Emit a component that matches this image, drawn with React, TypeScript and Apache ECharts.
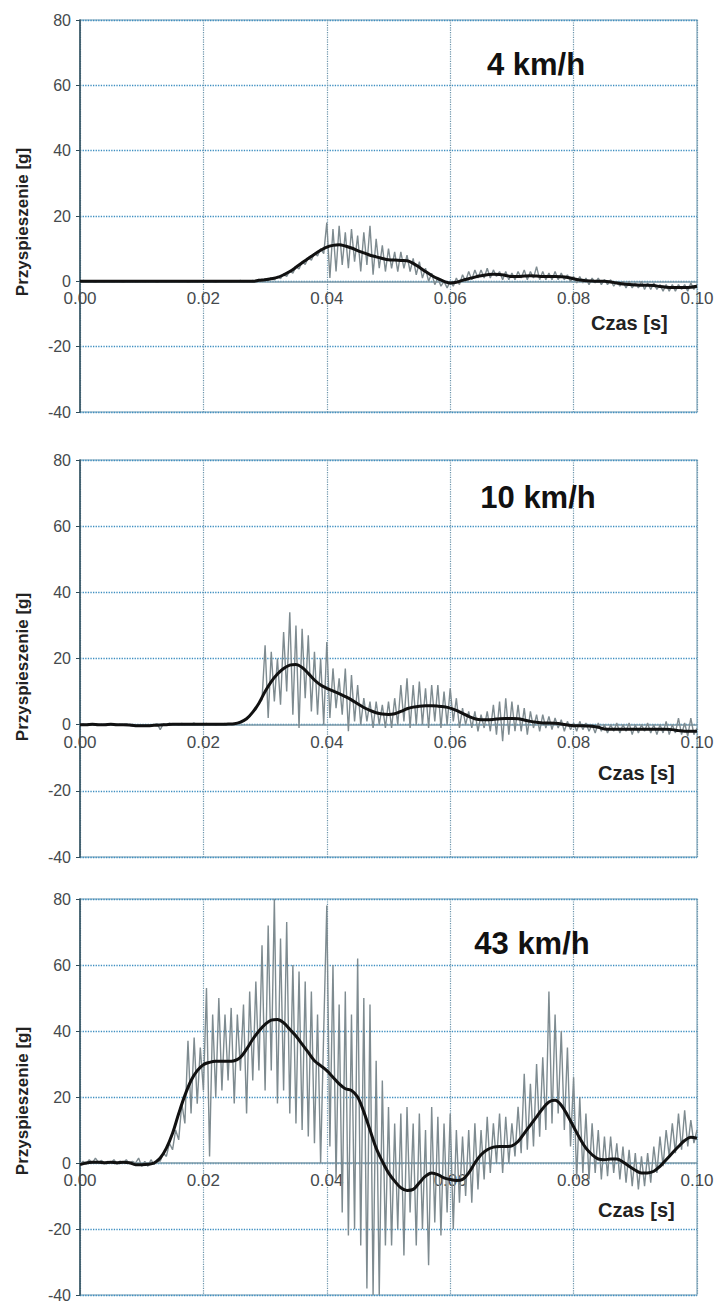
import React, { useEffect, useRef } from "react";
import * as echarts from "echarts";

// time step of the raw (grey) samples and of the filtered (black) samples, in seconds
const RAW_STEP = 0.0005;
const FILT_STEP = 0.001;
const X_MIN = 0;
const X_MAX = 0.1;
const X_INTERVAL = 0.02;
const Y_MIN = -40;
const Y_MAX = 80;
const Y_INTERVAL = 20;

const TITLES = ["4 km/h", "10 km/h", "43 km/h"];
const Y_NAME = "Przyspieszenie [g]";
const X_NAME = "Czas [s]";

// ---------- 4 km/h ----------
const P1_RAW = [
  0, 0.1, -0.1, 0.2, 0, -0.2, 0.1, 0, -0.1, 0.2,
  0, -0.1, 0.1, 0, -0.2, 0.1, 0, 0.2, -0.1, 0,
  0.1, -0.1, 0, 0.2, 0, -0.2, 0.1, 0, -0.1, 0.1,
  0, 0.2, -0.1, 0, 0.1, -0.2, 0, 0.1, -0.1, 0.2,
  0, -0.1, 0.1, 0, -0.2, 0.1, 0, 0.2, 0, -0.1,
  0.1, 0, 0.3, -0.1, 0.2, 0,
  0.3, -0.2, 0.6, 0, 0.8, 0.2, 1.2, 0.4, 1.5, 0.8, 2.2, 1.5, 3.2, 2.5, 4.5, 3.8, 6, 5.2, 7.3, 6.5, 8.6, 7.8, 10, 8.5,
  18, 1, 16, 3, 17, 5, 15, 4, 16, 6,
  14, 3, 15, 5, 17, 2, 13, 4, 11, 3,
  10, 4, 9, 3, 9, 4, 8, 3, 7, 2,
  6, 1, 4, 0, 2.5, -1, 1, -1.5, 0, -2,
  0, -1.5, 1, -1, 2, 0, 3, 0.5, 3.5, 1,
  3.5, 1, 4, 1, 3.5, 1.5, 3, 0.5, 3, 0.5,
  2.5, 0.5, 3, 1, 3.5, 0.5, 3, 1, 4.5, 0.5,
  3, 0.5, 2.5, 0.5, 3, 0.5, 2.5, 0.5, 2, 0,
  1.5, -0.5, 1.5, -0.5, 1, -1, 1, -0.5, 1, -1,
  0.5, -1, 0.5, -1.5, 0, -1.5, 0, -2, 0, -2,
  -0.5, -2, 0, -2.5, -0.5, -2.5, -0.5, -2.5, -1, -3,
  -1, -3, -1, -3, -1, -2.5, -1, -3, -0.5, -2.5, -1,
];
const P1_FILT = [
  0, 0, 0, 0, 0, 0, 0, 0, 0, 0,
  0, 0, 0, 0, 0, 0, 0, 0, 0, 0,
  0, 0, 0, 0, 0, 0, 0, 0, 0, 0.3,
  0.5, 0.8, 1.2, 2, 3, 4.3, 5.7, 7, 8.3, 9.5,
  10.5, 11, 11.2, 10.8, 10.2, 9.4, 8.7, 8, 7.5, 7,
  6.6, 6.5, 6.4, 6.3, 5.5, 4.3, 3, 1.8, 0.8, 0,
  -0.5, -0.3, 0.3, 0.8, 1.3, 1.7, 2, 2.2, 2.1, 1.8,
  1.5, 1.5, 1.6, 1.7, 1.6, 1.5, 1.5, 1.5, 1.4, 1.2,
  0.8, 0.4, 0.2, 0.1, 0, 0, -0.2, -0.5, -0.8, -1,
  -1.1, -1.2, -1.2, -1.3, -1.6, -1.8, -1.9, -1.9, -1.9, -1.8,
  -1.5,
];

// ---------- 10 km/h ----------
const P2_RAW = [
  0, 0.2, -0.1, 0.1, 0, 0.2, 0, -0.1, 0.1, 0,
  0.2, 0, -0.1, 0.1, 0, 0.2, -0.2, -0.4, -0.2, -0.5,
  -0.2, -0.5, -0.1, -0.4, 0, 0.3, -1.5, 0.2, 0, 0.5,
  0, 0.3, -0.1, 0.4, 0, 0.3, 0.1, 0.5, 0, 0.3,
  0.1, 0.4, 0, 0.3, -0.1, 0.2, 0.1, 0.4, 0, 0.3,
  0.2, 0.5,
  0.5, 1, 1.8, 2.5, 3.8, 4.5, 6.5, 7.5,
  24, 2, 22, 7, 20, 6, 28, 10, 34, 3,
  30, -1, 29, 8, 27, 4, 22, 3, 20, 0,
  25, 2, 17, 5, 14, 3, 17, -2, 15, 1,
  12, 0, 8, 1, 7, -1, 7, 0, 6, -1,
  7, -1, 8, 0, 12, 1, 14, -1, 12, 0,
  13, 0, 11, -1, 12, 1, 12, -1, 10, 0,
  11, 1, 8, -1, 5, 0, 4, -1, 4, -2,
  3, -1, 4, -2, 6, -3, 7, -5, 8, -3,
  7, -2, 6, -2, 5, -3, 4, -1, 3, -2,
  3, -1, 2.5, -1.5, 2, -1, 1.5, -2, 1, -1.5,
  0.5, -2, 1, -1.5, 0.5, -2, 0, -2.5, 0.5, -2,
  0, -2.5, 0, -2, 0.5, -2.5, 0, -2, 0.5, -3,
  0, -2.5, 0, -2, 0.5, -2.5, 0, -3, 0, -2.5,
  1, -3, 0, -2.5, 2, -3, 0.5, -3.5, 2, -3, -1,
];
const P2_FILT = [
  0, 0, 0.1, 0, 0, 0.1, 0, 0, -0.1, -0.3,
  -0.3, -0.3, -0.2, -0.1, 0, 0.1, 0.1, 0.1, 0.1, 0.1,
  0.1, 0.1, 0.1, 0.1, 0.2, 0.3, 0.8, 1.8, 3.8, 6.5,
  10, 13, 15.3, 17, 18, 18.2, 17.3, 15.5, 13.5, 12,
  11, 10.2, 9.4, 8.5, 7.5, 6.3, 5.2, 4.3, 3.6, 3.2,
  3.1, 3.3, 4, 4.8, 5.3, 5.6, 5.7, 5.7, 5.6, 5.4,
  5, 4.3, 3.4, 2.5, 1.8, 1.5, 1.5, 1.6, 1.8, 1.9,
  1.9, 1.8, 1.4, 1, 0.7, 0.5, 0.5, 0.4, 0.2, -0.1,
  -0.3, -0.3, -0.4, -0.5, -0.8, -1.3, -1.4, -1.4, -1.4, -1.4,
  -1.4, -1.4, -1.4, -1.4, -1.4, -1.4, -1.5, -1.8, -2, -2,
  -2,
];

// ---------- 43 km/h ----------
const P3_RAW = [
  -0.5, 0.5, -0.3, 1, 0, 1.5, 0.2, 0.8, -0.2, 0.5,
  0, 1, -0.3, 0.6, 0, 1, -0.2, 0.5, 0, 1.5,
  -1, 0.5, -1, 1, -0.5, 1, 0.5, 3, 2, 6,
  4, 10, 7, 18, 12, 37, 15, 38, 18, 35,
  22, 53, 2, 45, 20, 50, 22, 45, 25, 47,
  18, 45, 28, 48, 15, 52, 25, 55, 28, 66,
  22, 72, 28, 80, 18, 68, 22, 73, 15, 60,
  12, 58, 10, 55, 8, 52, 6, 45, 0, 40,
  78, 5, 60, -5, 48, -15, 52, -22, 45, -20,
  62, -25, 50, -38, 48, -40, 31, -40, 25, -25,
  17, -25, 12, -20, 15, -28, 17, -15, 12, -25,
  15, -20, 10, -31, 17, -18, 14, -22, 12, -15,
  15, -20, 10, -12, 8, -10, 10, -12, 12, -8,
  10, -5, 14, -3, 12, 0, 15, -3, 14, 0,
  12, 2, 17, 3, 27, 4, 24, 5, 30, 8,
  32, 10, 52, 12, 45, 15, 40, 10, 35, 5,
  26, -5, 20, -3, 15, -5, 12, -3, 10, -5,
  8, -4, 8, -3, 6, -5, 5, -6, 4, -7,
  3, -8, 2, -7, 3, -6, 5, -3, 8, -1,
  10, 2, 12, 3, 15, 4, 16, 5, 13, 6, 10,
];
const P3_FILT = [
  -0.5, 0, 0.2, 0.2, 0.1, 0.2, 0.1, 0.2, 0.1, -0.5,
  -0.5, -0.4, 0, 1.5, 4.5, 9, 15, 20.5, 25, 28,
  29.8, 30.5, 30.8, 30.8, 30.8, 31, 32, 34.5, 37.5, 40,
  42, 43.3, 43.5, 42.5, 40.5, 38.5, 36, 33.5, 31, 29.5,
  28, 26, 24, 22.5, 22, 20, 15.5, 10, 4.5, 0.5,
  -3, -5.5, -7.5, -8.3, -8, -6, -4, -3, -3.5, -4.5,
  -5, -5.3, -5, -3, 0, 2.5, 4, 4.8, 5, 5,
  5.2, 6.5, 9, 11.5, 14, 16.5, 18.5, 19, 17.5, 14.5,
  11, 7.5, 4.5, 2.5, 1.2, 1, 1.2, 1.2, 0.3, -1,
  -2.2, -3, -3, -2.5, -1, 1, 3, 5, 6.8, 7.8,
  7.5,
];

const RAW = [P1_RAW, P2_RAW, P3_RAW];
const FILT = [P1_FILT, P2_FILT, P3_FILT];

// layout
const PANELS = [
  { top: 20, height: 392, titleX: 536, titleY: 64, nameY: 222, czasX: 591, czasY: 323 },
  { top: 460, height: 397, titleX: 538, titleY: 497, nameY: 667, czasX: 598, czasY: 773 },
  { top: 899, height: 396, titleX: 532, titleY: 943, nameY: 1101, czasX: 598, czasY: 1210 },
];
const GRID_LEFT = 80;
const GRID_WIDTH = 617;

const FONT = "'Liberation Sans', Arial, sans-serif";

function toPairs(values: number[], step: number): number[][] {
  return values.map((v, i) => [Number((i * step).toFixed(5)), v]);
}

export default function App() {
  const ref = useRef<HTMLDivElement>(null);
  useEffect(() => {
    document.body.style.margin = "0";
    if (!ref.current) return;
    const chart = echarts.init(ref.current, null, { renderer: "svg" });

    const grid = PANELS.map((p) => ({
      left: GRID_LEFT,
      width: GRID_WIDTH,
      top: p.top,
      height: p.height,
      show: true,
      backgroundColor: "#ffffff",
      borderColor: "#9fbccb",
      borderWidth: 1.5,
      containLabel: false,
    }));

    // the time axis sits on the zero line: shift it up from the bottom by the share of the range below zero
    const xAxis = PANELS.map((p, i) => ({
      type: "value",
      gridIndex: i,
      min: X_MIN,
      max: X_MAX,
      interval: X_INTERVAL,
      position: "bottom",
      offset: -(p.height * (0 - Y_MIN)) / (Y_MAX - Y_MIN),
      axisLine: { show: true, onZero: false, lineStyle: { color: "#7d9aa8", width: 1.5 } },
      axisTick: { show: false },
      axisLabel: {
        show: true,
        showMaxLabel: true,
        showMinLabel: true,
        margin: 9,
        color: "#454a4d",
        fontSize: 17,
        fontFamily: FONT,
        formatter: (v: number) => v.toFixed(2),
      },
      splitLine: { show: true, lineStyle: { type: "dotted", color: "#6a93aa", width: 1.2 } },
    }));

    const yAxis = PANELS.map((_, i) => ({
      type: "value",
      gridIndex: i,
      min: Y_MIN,
      max: Y_MAX,
      interval: Y_INTERVAL,
      axisLine: { show: true, onZero: false, lineStyle: { color: "#2f4c5a", width: 1.5 } },
      axisTick: { show: true, length: 4, lineStyle: { color: "#2f4c5a" } },
      axisLabel: { margin: 9, color: "#454a4d", fontSize: 16, fontFamily: FONT },
      splitLine: { show: true, lineStyle: { type: "dotted", color: "#3d8ec0", width: 1.3 } },
    }));

    const series: any[] = [];
    PANELS.forEach((_, i) => {
      series.push({
        type: "line",
        xAxisIndex: i,
        yAxisIndex: i,
        data: toPairs(RAW[i], RAW_STEP),
        showSymbol: false,
        symbol: "none",
        lineStyle: { color: "#7e8b90", width: 1.4 },
        silent: true,
        clip: true,
        z: 2,
      });
      series.push({
        type: "line",
        xAxisIndex: i,
        yAxisIndex: i,
        data: toPairs(FILT[i], FILT_STEP),
        showSymbol: false,
        symbol: "none",
        smooth: 0.35,
        lineStyle: { color: "#111111", width: 3 },
        silent: true,
        clip: true,
        z: 3,
      });
    });

    const graphic: any[] = [];
    PANELS.forEach((p, i) => {
      graphic.push({
        type: "text",
        x: p.titleX,
        y: p.titleY,
        z: 10,
        style: {
          text: TITLES[i],
          fontFamily: FONT,
          fontWeight: "bold",
          fontSize: 31,
          fill: "#111111",
          textAlign: "center",
          textVerticalAlign: "middle",
        },
      });
      graphic.push({
        type: "text",
        x: p.czasX,
        y: p.czasY,
        z: 10,
        style: {
          text: X_NAME,
          fontFamily: FONT,
          fontWeight: "bold",
          fontSize: 20,
          fill: "#222222",
          textAlign: "left",
          textVerticalAlign: "middle",
        },
      });
      graphic.push({
        type: "text",
        x: 22,
        y: p.nameY,
        rotation: Math.PI / 2,
        z: 10,
        style: {
          text: Y_NAME,
          fontFamily: FONT,
          fontWeight: "bold",
          fontSize: 17,
          fill: "#222222",
          textAlign: "center",
          textVerticalAlign: "middle",
        },
      });
    });

    chart.setOption({
      animation: false,
      backgroundColor: "#ffffff",
      grid,
      xAxis,
      yAxis,
      series,
      graphic,
    });
    return () => chart.dispose();
  }, []);
  return <div ref={ref} style={{ width: 718, height: 1303 }} />;
}
